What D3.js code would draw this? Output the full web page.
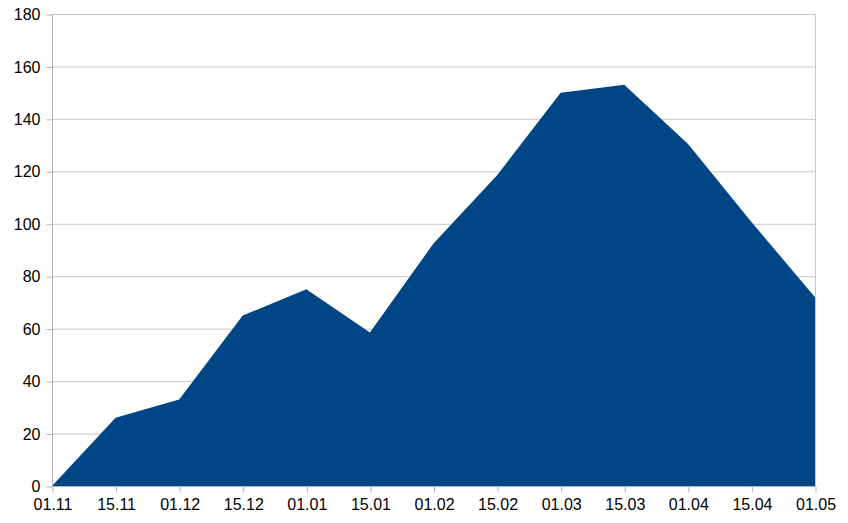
<!DOCTYPE html>
<html><head><meta charset="utf-8">
<script src="https://cdn.jsdelivr.net/npm/d3@7"></script>
<style>body{margin:0;background:#fff}svg{display:block}text{font-family:"Liberation Sans",Arial,sans-serif}</style>
</head><body><svg id="c" width="848" height="523"></svg>
<script>
const categories = ["01.11","15.11","01.12","15.12","01.01","15.01","01.02","15.02","01.03","15.03","01.04","15.04","01.05"];
const values = [0, 26, 33, 65, 75, 58.5, 92.5, 118.5, 150, 153, 130.5, 100.7, 72];
const yTicks = [0,20,40,60,80,100,120,140,160,180];

const svg = d3.select("#c");
const L = 52, R = 815, T = 14, B = 486;
const x = d3.scalePoint().domain(categories).range([L, R]);
const y = d3.scaleLinear().domain([0,180]).range([B, T]);

// gridlines
svg.append("g").selectAll("line").data(yTicks).join("line")
  .attr("x1", L).attr("x2", R).attr("y1", d=>y(d)+0.5).attr("y2", d=>y(d)+0.5)
  .attr("stroke", "#c8c8c8").attr("stroke-width", 1);

// right border line
svg.append("line").attr("x1", R+0.5).attr("x2", R+0.5).attr("y1", T).attr("y2", B)
  .attr("stroke", "#c8c8c8");

// area
const area = d3.area().x((d,i)=>x(categories[i])).y0(B).y1(d=>y(d));
svg.append("path").datum(values).attr("d", area).attr("fill", "#004586");

// y axis
const ya = svg.append("g").attr("transform", `translate(${L+0.5},0.5)`)
  .call(d3.axisLeft(y).tickValues(yTicks).tickSize(6).tickPadding(6).tickFormat(d3.format("d")));
ya.select(".domain").attr("stroke", "#b3b3b3").attr("d", `M0,${T}V${B}`);
ya.selectAll(".tick line").attr("stroke", "#b3b3b3");
ya.selectAll(".tick text").attr("font-size", 16).attr("fill", "#000").attr("font-family", '"Liberation Sans",Arial,sans-serif');

// x axis
const xa = svg.append("g").attr("transform", `translate(0.5,${B+0.5})`)
  .call(d3.axisBottom(x).tickSize(6).tickPadding(6));
xa.select(".domain").attr("stroke", "#b3b3b3").attr("d", `M${L},0H${R}`);
xa.selectAll(".tick line").attr("stroke", "#b3b3b3");
xa.selectAll(".tick text").attr("font-size", 16).attr("fill", "#000").attr("font-family", '"Liberation Sans",Arial,sans-serif');
</script></body></html>
